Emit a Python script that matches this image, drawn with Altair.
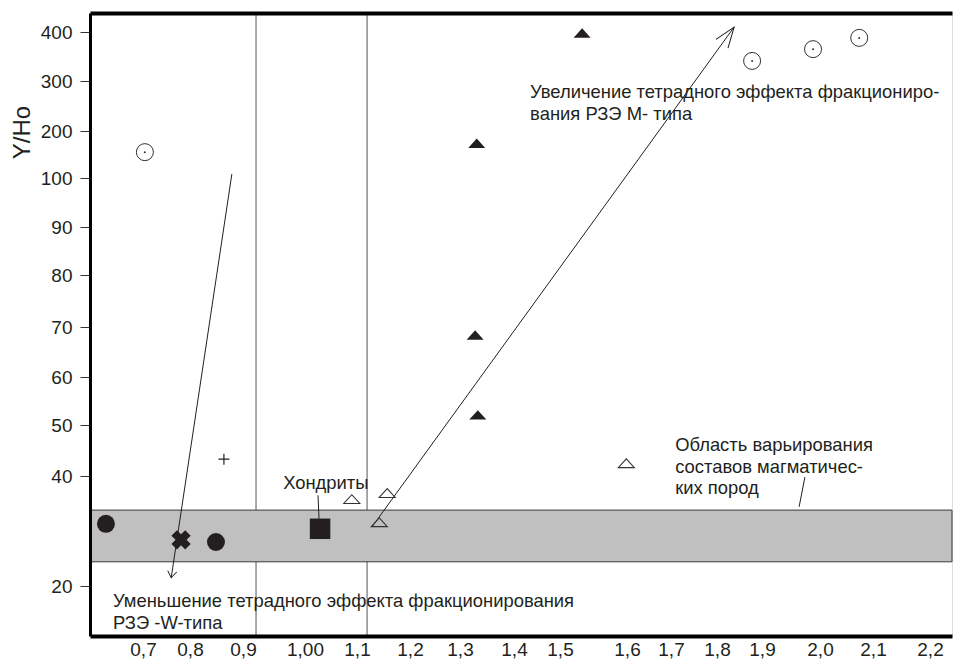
import altair as alt
import pandas as pd

FONT = "Liberation Sans"
INK = "#231f20"

# ---- hand-drawn axes: tick values and where they sit along the plot ----
x_ticks = [0.7, 0.8, 0.9, 1.0, 1.1, 1.2, 1.3, 1.4, 1.5, 1.6, 1.7, 1.8, 1.9, 2.0, 2.1, 2.2]
x_stops = [53, 100, 153, 215, 267, 320, 370, 424, 470, 537, 581, 627, 672, 730, 783, 840]
y_ticks = [20, 40, 50, 60, 70, 80, 90, 100, 200, 300, 400]
y_stops = [573, 463, 412, 364, 314, 262, 214, 165, 118, 68, 19]

W, H = 862, 623
x_dom = [0.587] + x_ticks + [2.239]
x_rng = [0] + x_stops + [W]
y_dom = [10.9] + y_ticks + [438.8]
y_rng = [H] + y_stops + [0]

# ---- data ----
fc_x = [0.621, 0.849]; fc_y = [31.3, 28.0]                 # filled circles
cr_x = [0.781]; cr_y = [28.4]                               # cross
sq_x = [1.029]; sq_y = [30.4]                               # square (chondrites)
pl_x = [0.864]; pl_y = [43.3]                               # plus
ot_x = [1.090, 1.157, 1.142, 1.599]; ot_y = [35.8, 36.9, 31.6, 42.5]   # open triangles
ft_x = [1.533, 1.331, 1.328, 1.333]; ft_y = [398, 174, 68.4, 52.1]     # filled triangles
oc_x = [0.704, 1.878, 1.988, 2.074]; oc_y = [155, 341, 365, 388]       # open circles
vlines = [0.921, 1.119]
band_lo, band_hi = [24.4], [33.8]

seg_x = [0.879, 1.128, 1.025, 1.974]
seg_y = [108.5, 30.7, 36.5, 39.8]
seg_x2 = [0.760, 1.838, 1.027, 1.964]
seg_y2 = [21.5, 410.0, 32.2, 34.4]

txt_left = [
    "Увеличение тетрадного эффекта фракциониро-",
    "вания РЗЭ М- типа",
    "Уменьшение тетрадного эффекта фракционирования",
    "РЗЭ -W-типа",
    "Область варьирования",
    "составов магматичес-",
    "ких пород",
]
txt_left_x = [1.435, 1.435, 0.636, 0.636, 1.709, 1.709, 1.709]
txt_left_y = [278, 234, 17.3, 13.3, 46.1, 41.8, 37.8]
txt_c = ["Хондриты"]; txt_c_x = [1.040]; txt_c_y = [38.7]

xs = alt.Scale(domain=x_dom, range=x_rng, nice=False, zero=False)
ys = alt.Scale(domain=y_dom, range=y_rng, nice=False, zero=False)

x_axis = alt.Axis(values=x_ticks, orient="bottom",
                  labelExpr="datum.value == 1 ? '1,00' : replace(format(datum.value, '.1f'), '.', ',')",
                  ticks=False, tickSize=0, domainColor="black", domainWidth=4,
                  labelFontSize=19, labelFont=FONT, labelColor=INK, labelPadding=4,
                  labelOverlap=False, labelFlush=False, grid=False, title=None, zindex=1)
y_axis = alt.Axis(values=y_ticks, tickSize=10, tickColor="#333", tickWidth=1,
                  domainColor="black", domainWidth=3, labelFontSize=19, labelFont=FONT,
                  labelColor=INK, labelPadding=8, labelOverlap=False, labelFlush=False,
                  grid=False, title="Y/Ho", titleFont=FONT, titleFontSize=24,
                  titleFontWeight="normal", titleColor=INK, titleAngle=270,
                  titleX=-68, titleY=119, titleAlign="center", titleBaseline="middle", zindex=1)

X = alt.X("x:Q", scale=xs, axis=x_axis)
Y = alt.Y("y:Q", scale=ys, axis=y_axis)


def df(xv, yv, **extra):
    d = {"x": xv, "y": yv}
    d.update(extra)
    return pd.DataFrame(d)


top = alt.Chart(pd.DataFrame({"x": vlines})).mark_rule(color="#555", strokeWidth=1).encode(
    x=alt.X("x:Q", scale=xs, axis=alt.Axis(orient="top", labels=False, ticks=False,
                                          domainWidth=4, domainColor="black", grid=False,
                                          title=None, zindex=1)))

band = alt.Chart(pd.DataFrame({"y": band_lo, "y2": band_hi})).mark_rect(
    fill="#c0c0c0", stroke="#3a3a3a", strokeWidth=1).encode(y=Y, y2="y2:Q")

segs = alt.Chart(pd.DataFrame({"x": seg_x, "y": seg_y, "x2": seg_x2, "y2": seg_y2})).mark_rule(
    color=INK, strokeWidth=1).encode(x=X, y=Y, x2="x2:Q", y2="y2:Q")

head_big = alt.Chart(df([seg_x2[1]], [seg_y2[1]])).mark_point(
    shape="M-0.36,1L0,0L0.36,1", filled=False, size=1700, stroke=INK, strokeWidth=1,
    opacity=1, angle=36).encode(x=X, y=Y)
head_small = alt.Chart(df([seg_x2[0]], [seg_y2[0]])).mark_point(
    shape="M-0.7,1L0,0L0.7,1", filled=False, size=170, stroke=INK, strokeWidth=1,
    opacity=1, angle=189).encode(x=X, y=Y)

tri = "M-1,0.55L1,0.55L0,-0.55Z"
p_fc = alt.Chart(df(fc_x, fc_y)).mark_point(shape="circle", filled=True, size=324, color=INK, opacity=1).encode(x=X, y=Y)
p_cr = alt.Chart(df(cr_x, cr_y)).mark_point(shape="cross", angle=45, filled=True, size=380, color=INK, opacity=1).encode(x=X, y=Y)
p_sq = alt.Chart(df(sq_x, sq_y)).mark_point(shape="square", filled=True, size=420, color=INK, opacity=1).encode(x=X, y=Y)
p_pl = alt.Chart(df(pl_x, pl_y)).mark_point(shape="M-1,0L1,0M0,-1L0,1", filled=False, size=121, stroke=INK, strokeWidth=1.2, opacity=1).encode(x=X, y=Y)
p_ft = alt.Chart(df(ft_x, ft_y)).mark_point(shape=tri, filled=True, size=289, color=INK, opacity=1).encode(x=X, y=Y)
p_ot = alt.Chart(df(ot_x, ot_y)).mark_point(shape=tri, filled=False, size=256, stroke="#333", strokeWidth=1.1, opacity=1).encode(x=X, y=Y)
p_oc = alt.Chart(df(oc_x, oc_y)).mark_point(shape="circle", filled=False, size=289, stroke="#333", strokeWidth=1, opacity=1).encode(x=X, y=Y)
p_dot = alt.Chart(df(oc_x, oc_y)).mark_point(shape="circle", filled=True, size=4, color="#333", opacity=1).encode(x=X, y=Y)

t_left = alt.Chart(pd.DataFrame({"x": txt_left_x, "y": txt_left_y, "t": txt_left})).mark_text(
    align="left", baseline="middle", font=FONT, fontSize=18.4, color=INK).encode(x=X, y=Y, text="t:N")
t_c = alt.Chart(pd.DataFrame({"x": txt_c_x, "y": txt_c_y, "t": txt_c})).mark_text(
    align="center", baseline="middle", font=FONT, fontSize=18.4, color=INK).encode(x=X, y=Y, text="t:N")

main = alt.layer(band, segs, head_big, head_small, p_fc, p_cr, p_sq, p_pl, p_ft, p_ot, p_oc, p_dot, t_left, t_c)

chart = alt.layer(top, main).resolve_axis(x="independent").properties(
    width=W, height=H, autosize="none",
    padding={"left": 82, "top": 5, "right": 2, "bottom": 23},
).configure_view(stroke=None).configure(background="white")

chart.save("out.html", embed_options={"renderer": "svg", "actions": False})
